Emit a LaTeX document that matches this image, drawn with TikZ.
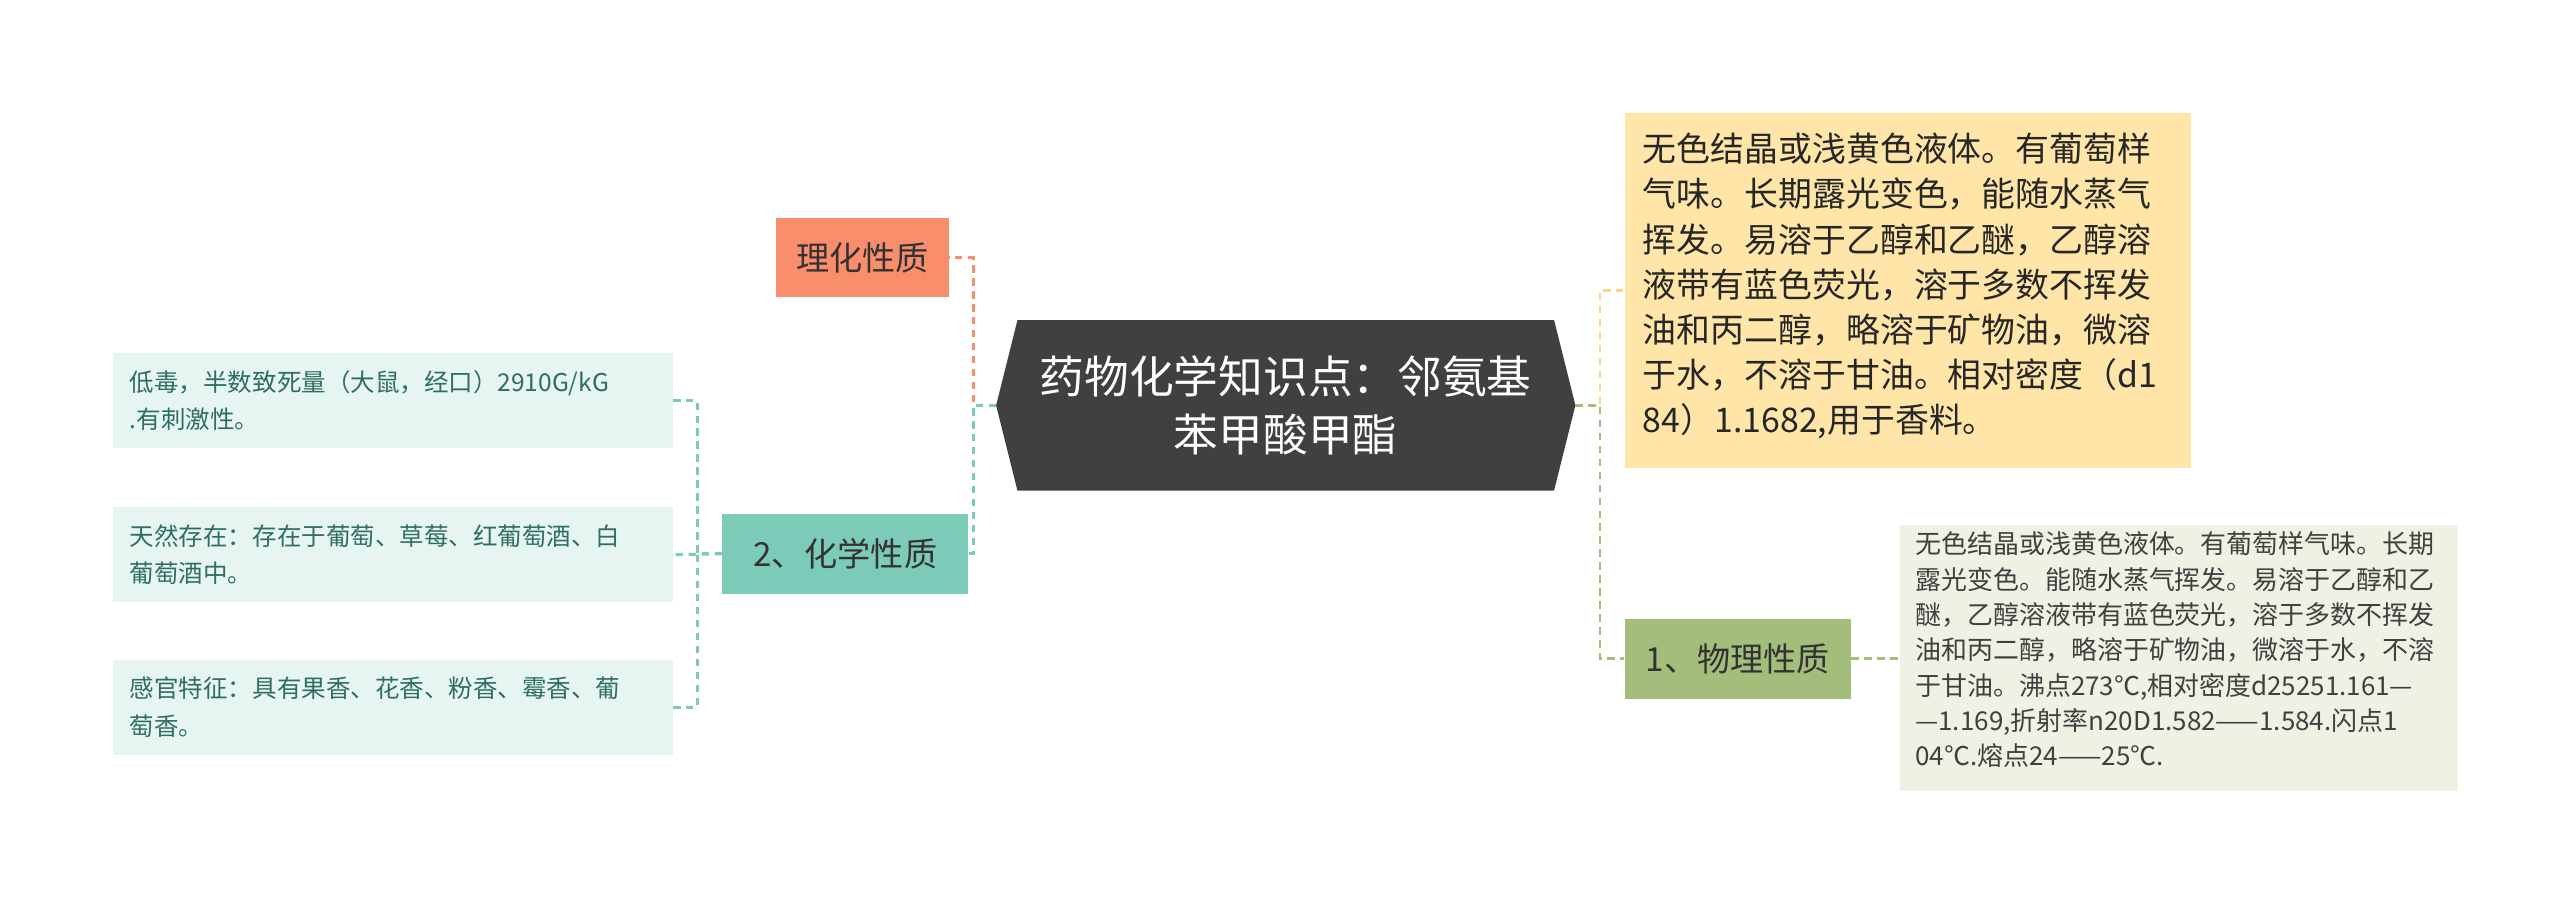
\documentclass[tikz,border=0pt]{standalone}
\usepackage{fontspec}
\setmainfont{Noto Sans CJK SC}
\begin{document}
\begin{tikzpicture}[x=0.04cm,y=-0.04cm,
  cn/.style={dash pattern=on 5pt off 4pt,line width=2pt}]
\useasboundingbox (0,0) rectangle (1560,549);
\definecolor{dk}{HTML}{404040}
\definecolor{sal}{HTML}{F98E6D}
\definecolor{tea}{HTML}{7CCBB8}
\definecolor{lt}{HTML}{E6F5F1}
\definecolor{ylw}{HTML}{FFE6A8}
\definecolor{grn}{HTML}{A3BE7A}
\definecolor{lg}{HTML}{EEF2E4}
\definecolor{ttx}{HTML}{2F6E62}
% centre
\fill[dk] (607,247) coordinate (cl) -- (620,195) -- (947,195) -- (960,247) coordinate (cr) -- (947,299) -- (620,299) -- cycle;
\node[text=white,align=center,font=\fontsize{31pt}{40pt}\selectfont] (c) at (783.5,247) {药物化学知识点：邻氨基\\苯甲酸甲酯};
% level 1
\node[fill=sal,minimum width=105*0.04cm,minimum height=48*0.04cm,inner sep=0pt,font=\fontsize{23pt}{23pt}\selectfont,text=black!80] (a) at (525.5,157) {理化性质};
\node[fill=tea,minimum width=150*0.04cm,minimum height=49*0.04cm,inner sep=0pt,font=\fontsize{23pt}{23pt}\selectfont,text=black!80] (b) at (515,337.5) {2、化学性质};
\node[fill=grn,minimum width=138*0.04cm,minimum height=49*0.04cm,inner sep=0pt,font=\fontsize{23pt}{23pt}\selectfont,text=black!80] (d) at (1059,401.5) {1、物理性质};
% left leaves
\foreach \n/\y/\t in {l1/215/{低毒，半数致死量（大鼠，经口）2910G/kG\\.有刺激性。},
  l2/309/{天然存在：存在于葡萄、草莓、红葡萄酒、白\\葡萄酒中。},
  l3/402/{感官特征：具有果香、花香、粉香、霉香、葡\\萄香。}}{
  \fill[lt] (69,\y) rectangle (410,\y+58);
  \node[anchor=west,align=left,inner sep=0pt,text=ttx,font=\fontsize{17pt}{26pt}\selectfont] (\n) at (79,\y+29) {\t};
  \coordinate (\n e) at (410,\y+29);
}
% right leaves
\fill[ylw] (990,69) rectangle (1335,285);
\node[anchor=north west,align=left,inner sep=0pt,text=black!85,font=\fontsize{23.5pt}{31.3pt}\selectfont] (y) at (1001,81) {无色结晶或浅黄色液体。有葡萄样\\气味。长期露光变色，能随水蒸气\\挥发。易溶于乙醇和乙醚，乙醇溶\\液带有蓝色荧光，溶于多数不挥发\\油和丙二醇，略溶于矿物油，微溶\\于水，不溶于甘油。相对密度（d1\\84）1.1682,用于香料。};
\coordinate (yw) at (990,177);
\fill[lg] (1158,320) rectangle (1498,482);
\node[anchor=north west,align=left,inner sep=0pt,text=black!75,font=\fontsize{18pt}{24.5pt}\selectfont] (g) at (1167,324) {无色结晶或浅黄色液体。有葡萄样气味。长期\\露光变色。能随水蒸气挥发。易溶于乙醇和乙\\醚，乙醇溶液带有蓝色荧光，溶于多数不挥发\\油和丙二醇，略溶于矿物油，微溶于水，不溶\\于甘油。沸点273℃,相对密度d25251.161—\\—1.169,折射率n20D1.582——1.584.闪点1\\04℃.熔点24——25℃.};
\coordinate (gw) at (1158,401.5);
% connectors
\draw[cn,sal] (cl) -- ++(-14,0) |- (a.east);
\draw[cn,tea] (cl) -- ++(-14,0) |- (b.east);
\draw[cn,tea] (b.west) -- ++(-15,0) |- (l1e);
\draw[cn,tea] (b.west) -- (l2e);
\draw[cn,tea] (b.west) -- ++(-15,0) |- (l3e);
\draw[cn,ylw!80!orange] (cr) -- ++(15,0) |- (yw);
\draw[cn,grn] (cr) -- ++(15,0) |- (d.west);
\draw[cn,grn] (d.east) -- (gw);
\end{tikzpicture}
\end{document}
